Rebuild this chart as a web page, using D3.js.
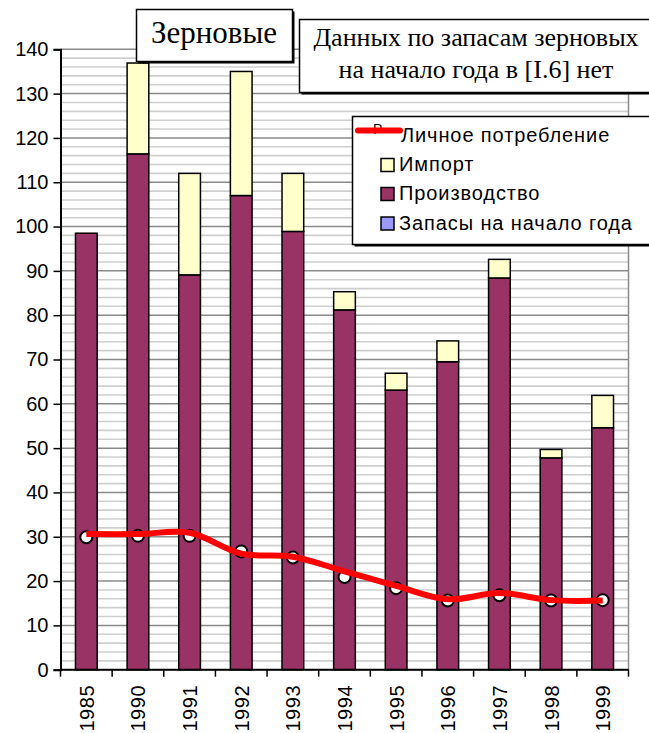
<!DOCTYPE html>
<html><head><meta charset="utf-8">
<script src="https://cdn.jsdelivr.net/npm/d3@7"></script>
<style>body{margin:0;background:#fff}svg{display:block}</style>
</head><body>
<script>
const years = ["1985","1990","1991","1992","1993","1994","1995","1996","1997","1998","1999"];
const stocks = [null,null,null,null,null,null,null,null,null,null,null];
const production = [98.5,116.4,89.1,107.0,98.9,81.2,63.1,69.5,88.4,47.8,54.6];
const imports = [0,20.5,22.9,28.0,13.1,4.1,3.8,4.7,4.2,1.9,7.3];
const consumptionLine = [30.6,30.6,30.9,26.2,25.5,22.2,18.9,15.9,17.3,15.7,15.6];
const consumptionPoints = [29.9,30.2,30.2,26.7,25.3,20.9,18.4,15.6,16.8,15.6,15.7];
const yTicks = [0,10,20,30,40,50,60,70,80,90,100,110,120,130,140];
const legendItems = ["Личное потребление","Импорт","Производство","Запасы на начало года"];
const titleText = "Зерновые";
const noteLines = ["Данных по запасам зерновых","на начало года в [I.6] нет"];

const W=649,H=733;
const svg=d3.select("body").append("svg").attr("width",W).attr("height",H);
const pL=60.5,pR=628.5,pT=49.3,pB=669.7;
const x=d3.scaleBand().domain(years).range([pL,pR]).paddingInner(0.58).paddingOuter(0.29);
const y=d3.scaleLinear().domain([0,140]).range([pB,pT]);

// grid
const g=svg.append("g");
g.selectAll("line.minor").data(d3.range(0,141,2).filter(v=>v%10!==0)).join("line")
 .attr("x1",pL).attr("x2",pR).attr("y1",d=>y(d)).attr("y2",d=>y(d))
 .attr("stroke","#cfcfcf").attr("stroke-width",1.6);
g.selectAll("line.major").data(yTicks).join("line")
 .attr("x1",pL).attr("x2",pR).attr("y1",d=>y(d)).attr("y2",d=>y(d))
 .attr("stroke","#8a8a8a").attr("stroke-width",1.5);
g.append("line").attr("x1",pR).attr("x2",pR).attr("y1",pT).attr("y2",pB).attr("stroke","#8a8a8a").attr("stroke-width",1.5);

// stacked bars
const rows=years.map((yr,i)=>({year:yr,stocks:stocks[i]||0,production:production[i],imports:imports[i]}));
const keys=["stocks","production","imports"];
const colors={stocks:"#9999ff",production:"#993366",imports:"#ffffcc"};
const stack=d3.stack().keys(keys)(rows);
stack.forEach(s=>{
  svg.append("g").selectAll("rect").data(s.filter(d=>d[1]-d[0]>0)).join("rect")
   .attr("x",d=>x(d.data.year)).attr("width",x.bandwidth())
   .attr("y",d=>y(d[1])).attr("height",d=>y(d[0])-y(d[1]))
   .attr("fill",colors[s.key]).attr("stroke","#000").attr("stroke-width",1.5);
});

// axes
const yAxis=d3.axisLeft(y).tickValues(yTicks).tickSize(7).tickPadding(5);
const ya=svg.append("g").attr("transform",`translate(${pL},0)`).call(yAxis);
ya.select(".domain").attr("stroke","#000").attr("stroke-width",2);
ya.selectAll(".tick line").attr("stroke","#000").attr("stroke-width",1.5);
ya.selectAll("text").attr("font-family","Liberation Sans, Arial").attr("font-size",20).attr("fill","#000");

const boundaries=d3.range(years.length+1).map(i=>pL+i*x.step());
svg.append("line").attr("x1",pL-1).attr("x2",pR).attr("y1",pB).attr("y2",pB).attr("stroke","#000").attr("stroke-width",2);
svg.selectAll("line.xt").data(boundaries).join("line").attr("x1",d=>d).attr("x2",d=>d)
 .attr("y1",pB).attr("y2",pB+7).attr("stroke","#000").attr("stroke-width",1.5);
svg.selectAll("text.xl").data(years).join("text")
 .attr("transform",d=>`translate(${x(d)+x.bandwidth()/2+7.5},${pB+15}) rotate(-90)`)
 .attr("text-anchor","end").attr("font-family","Liberation Sans, Arial").attr("font-size",20).attr("letter-spacing","0.6px").text(d=>d);

// markers then line
const cx=d=>x(d)+x.bandwidth()/2;
svg.selectAll("circle.pt").data(years).join("circle")
 .attr("cx",(d)=>cx(d)).attr("cy",(d,i)=>y(consumptionPoints[i])).attr("r",6)
 .attr("fill","#fff").attr("stroke","#000").attr("stroke-width",2);
const line=d3.line().x((d,i)=>cx(years[i])).y(d=>y(d)).curve(d3.curveCatmullRom.alpha(0.5));
svg.append("path").attr("d",line(consumptionLine)).attr("fill","none").attr("stroke","#ff0000").attr("stroke-width",6);

// boxes
function box(x0,y0,w,h){
  svg.append("rect").attr("x",x0+2).attr("y",y0+2).attr("width",w).attr("height",h).attr("fill","#000");
  svg.append("rect").attr("x",x0).attr("y",y0).attr("width",w).attr("height",h).attr("fill","#fff").attr("stroke","#000").attr("stroke-width",1.5);
}
box(136.5,9.5,156,52);
svg.append("text").attr("x",214).attr("y",43).attr("text-anchor","middle").attr("font-family","Liberation Serif, Times New Roman").attr("font-size",31).text(titleText);

box(299.5,19.5,380,73);
svg.selectAll("text.note").data(noteLines).join("text").attr("x",476).attr("y",(d,i)=>46+i*32)
 .attr("text-anchor","middle").attr("font-family","Liberation Serif, Times New Roman").attr("font-size",26).text(d=>d);

// legend
box(352.5,116.5,330,128);
const lg=svg.append("g");
const rowY=[141.5,171,200,229.5];
lg.append("text").attr("x",373).attr("y",134).attr("font-family","Liberation Sans, Arial").attr("font-size",14).text("Р");
lg.append("line").attr("x1",358).attr("x2",400).attr("y1",130.5).attr("y2",130.5).attr("stroke","#ff0000").attr("stroke-width",6).attr("stroke-linecap","round");
const sq=[null,colors.imports,colors.production,colors.stocks];
sq.forEach((c,i)=>{ if(c) lg.append("rect").attr("x",381).attr("y",rowY[i]-12.5).attr("width",13).attr("height",13).attr("fill",c).attr("stroke","#000").attr("stroke-width",1.5);});
lg.selectAll("text.li").data(legendItems).join("text").attr("x",(d,i)=>i===0?401:399).attr("y",(d,i)=>rowY[i])
 .attr("font-family","Liberation Sans, Arial").attr("font-size",20).attr("letter-spacing","0.9px").text(d=>d);
</script>
</body></html>
